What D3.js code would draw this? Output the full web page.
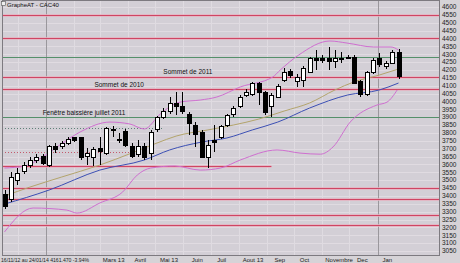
<!DOCTYPE html>
<html>
<head>
<meta charset="utf-8">
<script src="https://cdn.jsdelivr.net/npm/d3@7/dist/d3.min.js"></script>
<style>
  body { margin: 0; background: #d6d3d7; }
  svg { display: block; font-family: "Liberation Sans", Arial, sans-serif; }
</style>
</head>
<body>
<div id="chart"></div>
<script>
// weekly CAC40 candles, one per week from firstWeek
const firstWeek = '2012-11-16';
const opens = [3412, 3374, 3501, 3558, 3590, 3622, 3653, 3590, 3711, 3711,
  3736, 3768, 3768, 3653, 3641, 3704, 3672, 3819, 3761, 3806,
  3717, 3666, 3711, 3672, 3819, 3901, 3933, 3990, 3965, 3914,
  3850, 3800, 3647, 3755, 3774, 3850, 3914, 3965, 4035, 4041,
  4111, 4054, 3965, 4028, 4136, 4193, 4124, 4136, 4187, 4276,
  4276, 4276, 4251, 4276, 4282, 4282, 4124, 4041, 4181, 4270,
  4219, 4244, 4308];
const highs = [3437, 3552, 3577, 3615, 3647, 3666, 3666, 3723, 3736, 3749,
  3774, 3774, 3774, 3704, 3711, 3774, 3838, 3844, 3800, 3825,
  3736, 3755, 3736, 3819, 3908, 3958, 4028, 4060, 4060, 3933,
  3869, 3819, 3755, 3850, 3850, 3920, 3971, 4041, 4079, 4124,
  4124, 4066, 4054, 4111, 4212, 4206, 4174, 4225, 4282, 4327,
  4295, 4346, 4327, 4314, 4295, 4295, 4136, 4193, 4276, 4308,
  4257, 4327, 4333];
const lows = [3317, 3361, 3469, 3539, 3577, 3609, 3596, 3584, 3672, 3698,
  3723, 3742, 3628, 3596, 3590, 3596, 3660, 3774, 3736, 3711,
  3641, 3647, 3628, 3628, 3806, 3889, 3920, 3914, 3920, 3787,
  3711, 3641, 3577, 3679, 3761, 3838, 3901, 3958, 4028, 4035,
  3977, 3914, 3901, 4022, 4124, 4149, 4092, 4092, 4181, 4200,
  4244, 4200, 4212, 4244, 4270, 4111, 4028, 4035, 4174, 4219,
  4206, 4238, 4143];
const closes = [3330, 3520, 3545, 3590, 3628, 3647, 3609, 3717, 3692, 3736,
  3761, 3755, 3641, 3672, 3692, 3685, 3831, 3825, 3755, 3723,
  3653, 3717, 3641, 3800, 3895, 3939, 3990, 3965, 3933, 3857,
  3787, 3647, 3723, 3742, 3838, 3908, 3958, 4028, 4060, 4111,
  4060, 3927, 4035, 4098, 4187, 4168, 4155, 4212, 4276, 4263,
  4263, 4251, 4276, 4270, 4279, 4117, 4041, 4181, 4263, 4232,
  4238, 4314, 4161];

// indicator lines: [week number, level]
const maShort = [[1, 3399], [5, 3456], [10, 3520], [16, 3596], [21, 3672], [25, 3736],
  [28, 3780], [33, 3819], [37, 3850], [41, 3888], [45, 3939], [49, 3990],
  [53, 4073], [56, 4124], [60, 4168], [63, 4206]];
const maLong = [[1, 3348], [8, 3437], [16, 3564], [23, 3628], [27, 3692], [32, 3742],
  [36, 3768], [40, 3819], [44, 3869], [49, 3958], [55, 4041], [60, 4073], [63, 4117]];
const bandUpper = [[1, 3577], [4.2, 3590], [7, 3647], [9.7, 3723], [12.9, 3806],
  [17.6, 3869], [20.7, 3857], [23, 3825], [25.5, 3920], [28.6, 3996], [31.8, 4009],
  [34.4, 4028], [38.1, 4092], [43.2, 4155], [44.4, 4200], [47.3, 4295], [52.2, 4384],
  [54.9, 4371], [59.1, 4346], [61.8, 4346], [63, 4327]];
const bandLower = [[1, 3171], [5.5, 3323], [10.8, 3310], [12.4, 3291], [16, 3355],
  [19.6, 3425], [21.9, 3533], [24, 3577], [27.8, 3590], [31.8, 3564], [35, 3577],
  [38.1, 3628], [43.9, 3692], [47.5, 3672], [50.7, 3665], [52.7, 3711], [55.4, 3869],
  [59.6, 3977], [61.2, 3996], [62.8, 4073]];

const redLevels = [4550, 4400, 4157, 4080, 3450, 3380, 3279, 3215];
const greenLevels = [4280, 3900];
const supportLevel = [3590, '2013-09-06'];
const dottedGrey = [3831, '2013-05-09'];
const dottedRed = [3679, '2013-05-01'];

const notes = [
  ['Sommet de 2011', '2013-05-10', 4172],
  ['Sommet de 2010', '2013-02-23', 4092],
  ['Fenêtre baissière juillet 2011', '2012-12-28', 3911],
];

const yTicks = [4600, 4550, 4500, 4450, 4400, 4350, 4300, 4250, 4200, 4150, 4100,
  4050, 4000, 3950, 3900, 3850, 3800, 3750, 3700, 3650, 3600, 3550, 3500, 3450,
  3400, 3350, 3300, 3250, 3200, 3150, 3100, 3050];
const monthLines = ['2012-12-01', '2013-02-01', '2013-03-01', '2013-04-01', '2013-05-01',
  '2013-06-01', '2013-07-01', '2013-08-01', '2013-09-01', '2013-10-01', '2013-11-01',
  '2013-12-01'];
const yearLines = ['2013-01-01', '2014-01-01'];
// labels sit on the first weekly candle of each month
const monthLabels = [['2013-03-01', 'Mars 13'], ['2013-04-05', 'Avril'], ['2013-05-03', 'Mai 13'],
  ['2013-06-07', 'Juin'], ['2013-07-05', 'Juil'], ['2013-08-02', 'Aout 13'],
  ['2013-09-06', 'Sep'], ['2013-10-04', 'Oct'], ['2013-11-01', 'Novembre'],
  ['2013-12-06', 'Dec'], ['2014-01-03', 'Jan']];
const title = 'GrapheAT - CAC40';
const period = '16/11/12 au 24/01/14 4161.470 -3.94%';

const parse = d3.utcParse('%Y-%m-%d');
const WEEK = 7 * 864e5;

class CandleChart {
  constructor(node) {
    this.container = d3.select(node);
    this.width = 460;
    this.height = 263;
    this.plot = { left: 2, top: 0, right: 439, bottom: 255 };
    this.start = parse(firstWeek);
    this.setupUtils();
    this.setupDOM();
  }

  weekDate(w) {
    return new Date(this.start.getTime() + (w - 1) * WEEK);
  }

  setupUtils() {
    this.x = d3.scaleUtc()
      .domain([this.weekDate(1), this.weekDate(closes.length)])
      .range([4.5, 398.5]);
    this.y = d3.scaleLinear()
      .domain([3050, 4600])
      .range([251, 7]);
  }

  setupDOM() {
    this.svg = this.container.append('svg')
      .attr('width', this.width)
      .attr('height', this.height);
    const p = this.plot;
    this.svg.append('rect')
      .attr('width', this.width).attr('height', this.height)
      .attr('fill', '#d6d3d7');
    this.svg.append('rect')
      .attr('x', p.left).attr('y', p.top)
      .attr('width', p.right - p.left).attr('height', p.bottom - p.top)
      .attr('fill', '#d3cfd6');
  }

  hline(g, value, x0, x1, color, width, dash) {
    g.append('line')
      .attr('x1', x0).attr('x2', x1)
      .attr('y1', Math.round(this.y(value)) + 0.5)
      .attr('y2', Math.round(this.y(value)) + 0.5)
      .attr('stroke', color)
      .attr('stroke-width', width)
      .attr('stroke-dasharray', dash || null);
  }

  drawGraph() {
    const p = this.plot;
    const x = this.x;
    const y = this.y;
    const grid = this.svg.append('g').attr('shape-rendering', 'crispEdges');

    yTicks.forEach((t) => this.hline(grid, t, p.left, p.right, '#e0dbe1', 1));
    monthLines.forEach((d) => {
      const xx = Math.round(x(parse(d))) + 0.5;
      grid.append('line')
        .attr('x1', xx).attr('x2', xx).attr('y1', p.top).attr('y2', p.bottom)
        .attr('stroke', '#dfdbe1');
    });
    yearLines.forEach((d) => {
      const xx = Math.round(x(parse(d))) + 0.5;
      grid.append('line')
        .attr('x1', xx).attr('x2', xx).attr('y1', p.top).attr('y2', p.bottom)
        .attr('stroke', '#9a979c');
    });

    const levels = this.svg.append('g');
    const red = (v, x1) => {
      this.hline(levels, v, p.left, x1, '#e7b0bf', 2.6);
      this.hline(levels, v, p.left, x1, '#cf4563', 1);
    };
    redLevels.forEach((v) => red(v, p.right));
    greenLevels.forEach((v) => this.hline(levels, v, p.left, p.right, '#55906a', 1));
    red(supportLevel[0], x(parse(supportLevel[1])));
    this.hline(levels, dottedGrey[0], p.left, x(parse(dottedGrey[1])), '#5f8077', 1, '1,2');
    this.hline(levels, dottedRed[0], p.left, x(parse(dottedRed[1])), '#c45a6c', 1, '1,2');

    const line = d3.line()
      .x((d) => x(this.weekDate(d[0])))
      .y((d) => y(d[1]))
      .curve(d3.curveMonotoneX);
    const curves = this.svg.append('g').attr('fill', 'none');
    curves.append('path').attr('d', line(bandUpper)).attr('stroke', '#cf6fd0');
    curves.append('path').attr('d', line(bandLower)).attr('stroke', '#cf6fd0');
    curves.append('path').attr('d', line(maShort)).attr('stroke', '#b3a46c');
    curves.append('path').attr('d', line(maLong)).attr('stroke', '#3c4fb4');

    const candles = closes.map((c, i) => ({
      date: this.weekDate(i + 1), o: opens[i], h: highs[i], l: lows[i], c,
    }));
    const bw = 5;
    const cg = this.svg.append('g').attr('shape-rendering', 'crispEdges');
    const candle = cg.selectAll('g').data(candles).enter().append('g');
    candle.append('line')
      .attr('x1', (d) => Math.round(x(d.date)) + 0.5)
      .attr('x2', (d) => Math.round(x(d.date)) + 0.5)
      .attr('y1', (d) => y(d.h))
      .attr('y2', (d) => y(d.l))
      .attr('stroke', '#000');
    candle.append('rect')
      .attr('x', (d) => Math.round(x(d.date)) - (bw - 1) / 2 + 0.5)
      .attr('y', (d) => y(Math.max(d.o, d.c)))
      .attr('width', bw - 1)
      .attr('height', (d) => Math.max(1, Math.abs(y(d.o) - y(d.c))))
      .attr('fill', (d) => (d.c >= d.o ? '#fff' : '#000'))
      .attr('stroke', '#000');

    const texts = this.svg.append('g').attr('font-size', '6.5px').attr('fill', '#111');
    notes.forEach((n) => {
      texts.append('text')
        .attr('x', x(parse(n[1])))
        .attr('y', y(n[2]))
        .text(n[0]);
    });

    // frame and right axis
    const frame = this.svg.append('g').attr('shape-rendering', 'crispEdges');
    frame.append('rect')
      .attr('x', p.left + 0.5).attr('y', p.top + 0.5)
      .attr('width', p.right - p.left).attr('height', p.bottom - p.top)
      .attr('fill', 'none').attr('stroke', '#7d7a80');

    const axis = this.svg.append('g').attr('font-size', '6.5px').attr('fill', '#222');
    axis.selectAll('text').data(yTicks).enter().append('text')
      .attr('x', p.right + 3)
      .attr('y', (d) => y(d))
      .attr('dy', '0.35em')
      .text((d) => d);

    const bottom = this.svg.append('g').attr('font-size', '6px').attr('fill', '#222');
    bottom.selectAll('text').data(monthLabels).enter().append('text')
      .attr('x', (d) => x(parse(d[0])) + 3)
      .attr('y', 262)
      .text((d) => d[1]);
    bottom.append('text')
      .attr('x', 1).attr('y', 262)
      .attr('textLength', 88)
      .attr('lengthAdjust', 'spacingAndGlyphs')
      .text(period);

    this.svg.append('text')
      .attr('x', 7).attr('y', 6.5)
      .attr('font-size', '6px')
      .attr('fill', '#111')
      .text(title);
    this.svg.append('rect')
      .attr('x', 1.5).attr('y', 1.5).attr('width', 4).attr('height', 4)
      .attr('fill', '#eee').attr('stroke', '#555').attr('stroke-width', 0.6);
  }
}

const chart = new CandleChart(document.getElementById('chart'));
chart.drawGraph();
</script>
</body>
</html>
